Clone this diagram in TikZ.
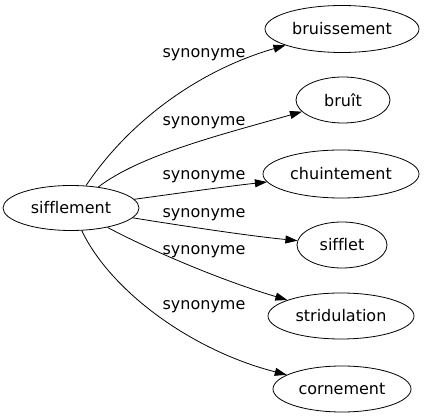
\documentclass[tikz,border=0pt]{standalone}
\usepackage{fontspec}
\setmainfont{DejaVu Sans}[Ligatures=NoCommon]
\usetikzlibrary{shapes.geometric,arrows.meta}

\begin{document}
\begin{tikzpicture}[x=1pt,y=-1pt,
    mot/.style={draw,ellipse,inner sep=0pt,line width=0.8pt,font=\fontsize{16}{19}\selectfont},
    syn/.style={font=\fontsize{16}{19}\selectfont},
    lien/.style={-{Triangle[length=12pt,width=8pt]},line width=0.8pt}]
      \useasboundingbox (0,0) rectangle (426,419) ;
      % les mots
      \node[mot,minimum width=136pt,minimum height=45pt] (sif) at (71,208) {sifflement} ;
      \node[mot,minimum width=154pt,minimum height=47pt] (bru) at (342,29) {bruissement} ;
      \node[mot,minimum width=94pt,minimum height=46pt] (bri) at (343,100) {bruît} ;
      \node[mot,minimum width=156pt,minimum height=48pt] (chu) at (341,174) {chuintement} ;
      \node[mot,minimum width=90pt,minimum height=46pt] (sft) at (342,245) {sifflet} ;
      \node[mot,minimum width=146pt,minimum height=46pt] (str) at (341,316) {stridulation} ;
      \node[mot,minimum width=138pt,minimum height=46pt] (cor) at (342,389) {cornement} ;
      % les liens
      \draw[lien] (sif) .. controls (130,120) and (200,70) .. (bru) ;
      \draw[lien] (sif) .. controls (140,155) and (220,135) .. (bri) ;
      \draw[lien] (sif) .. controls (180,193) and (230,186) .. (chu) ;
      \draw[lien] (sif) .. controls (190,227) and (250,236) .. (sft) ;
      \draw[lien] (sif) .. controls (150,250) and (220,280) .. (str) ;
      \draw[lien] (sif) .. controls (110,290) and (190,350) .. (cor) ;
      \node[syn] (s1) at (204,55) {synonyme} ;
      \node[syn] (s2) at (204,123) {synonyme} ;
      \node[syn] (s3) at (204,177) {synonyme} ;
      \node[syn] (s4) at (204,215) {synonyme} ;
      \node[syn] (s5) at (204,252) {synonyme} ;
      \node[syn] (s6) at (204,307) {synonyme} ;
      %\node[syn] (s0) at (204,0) {synonyme} ;
\end{tikzpicture}
\end{document}
